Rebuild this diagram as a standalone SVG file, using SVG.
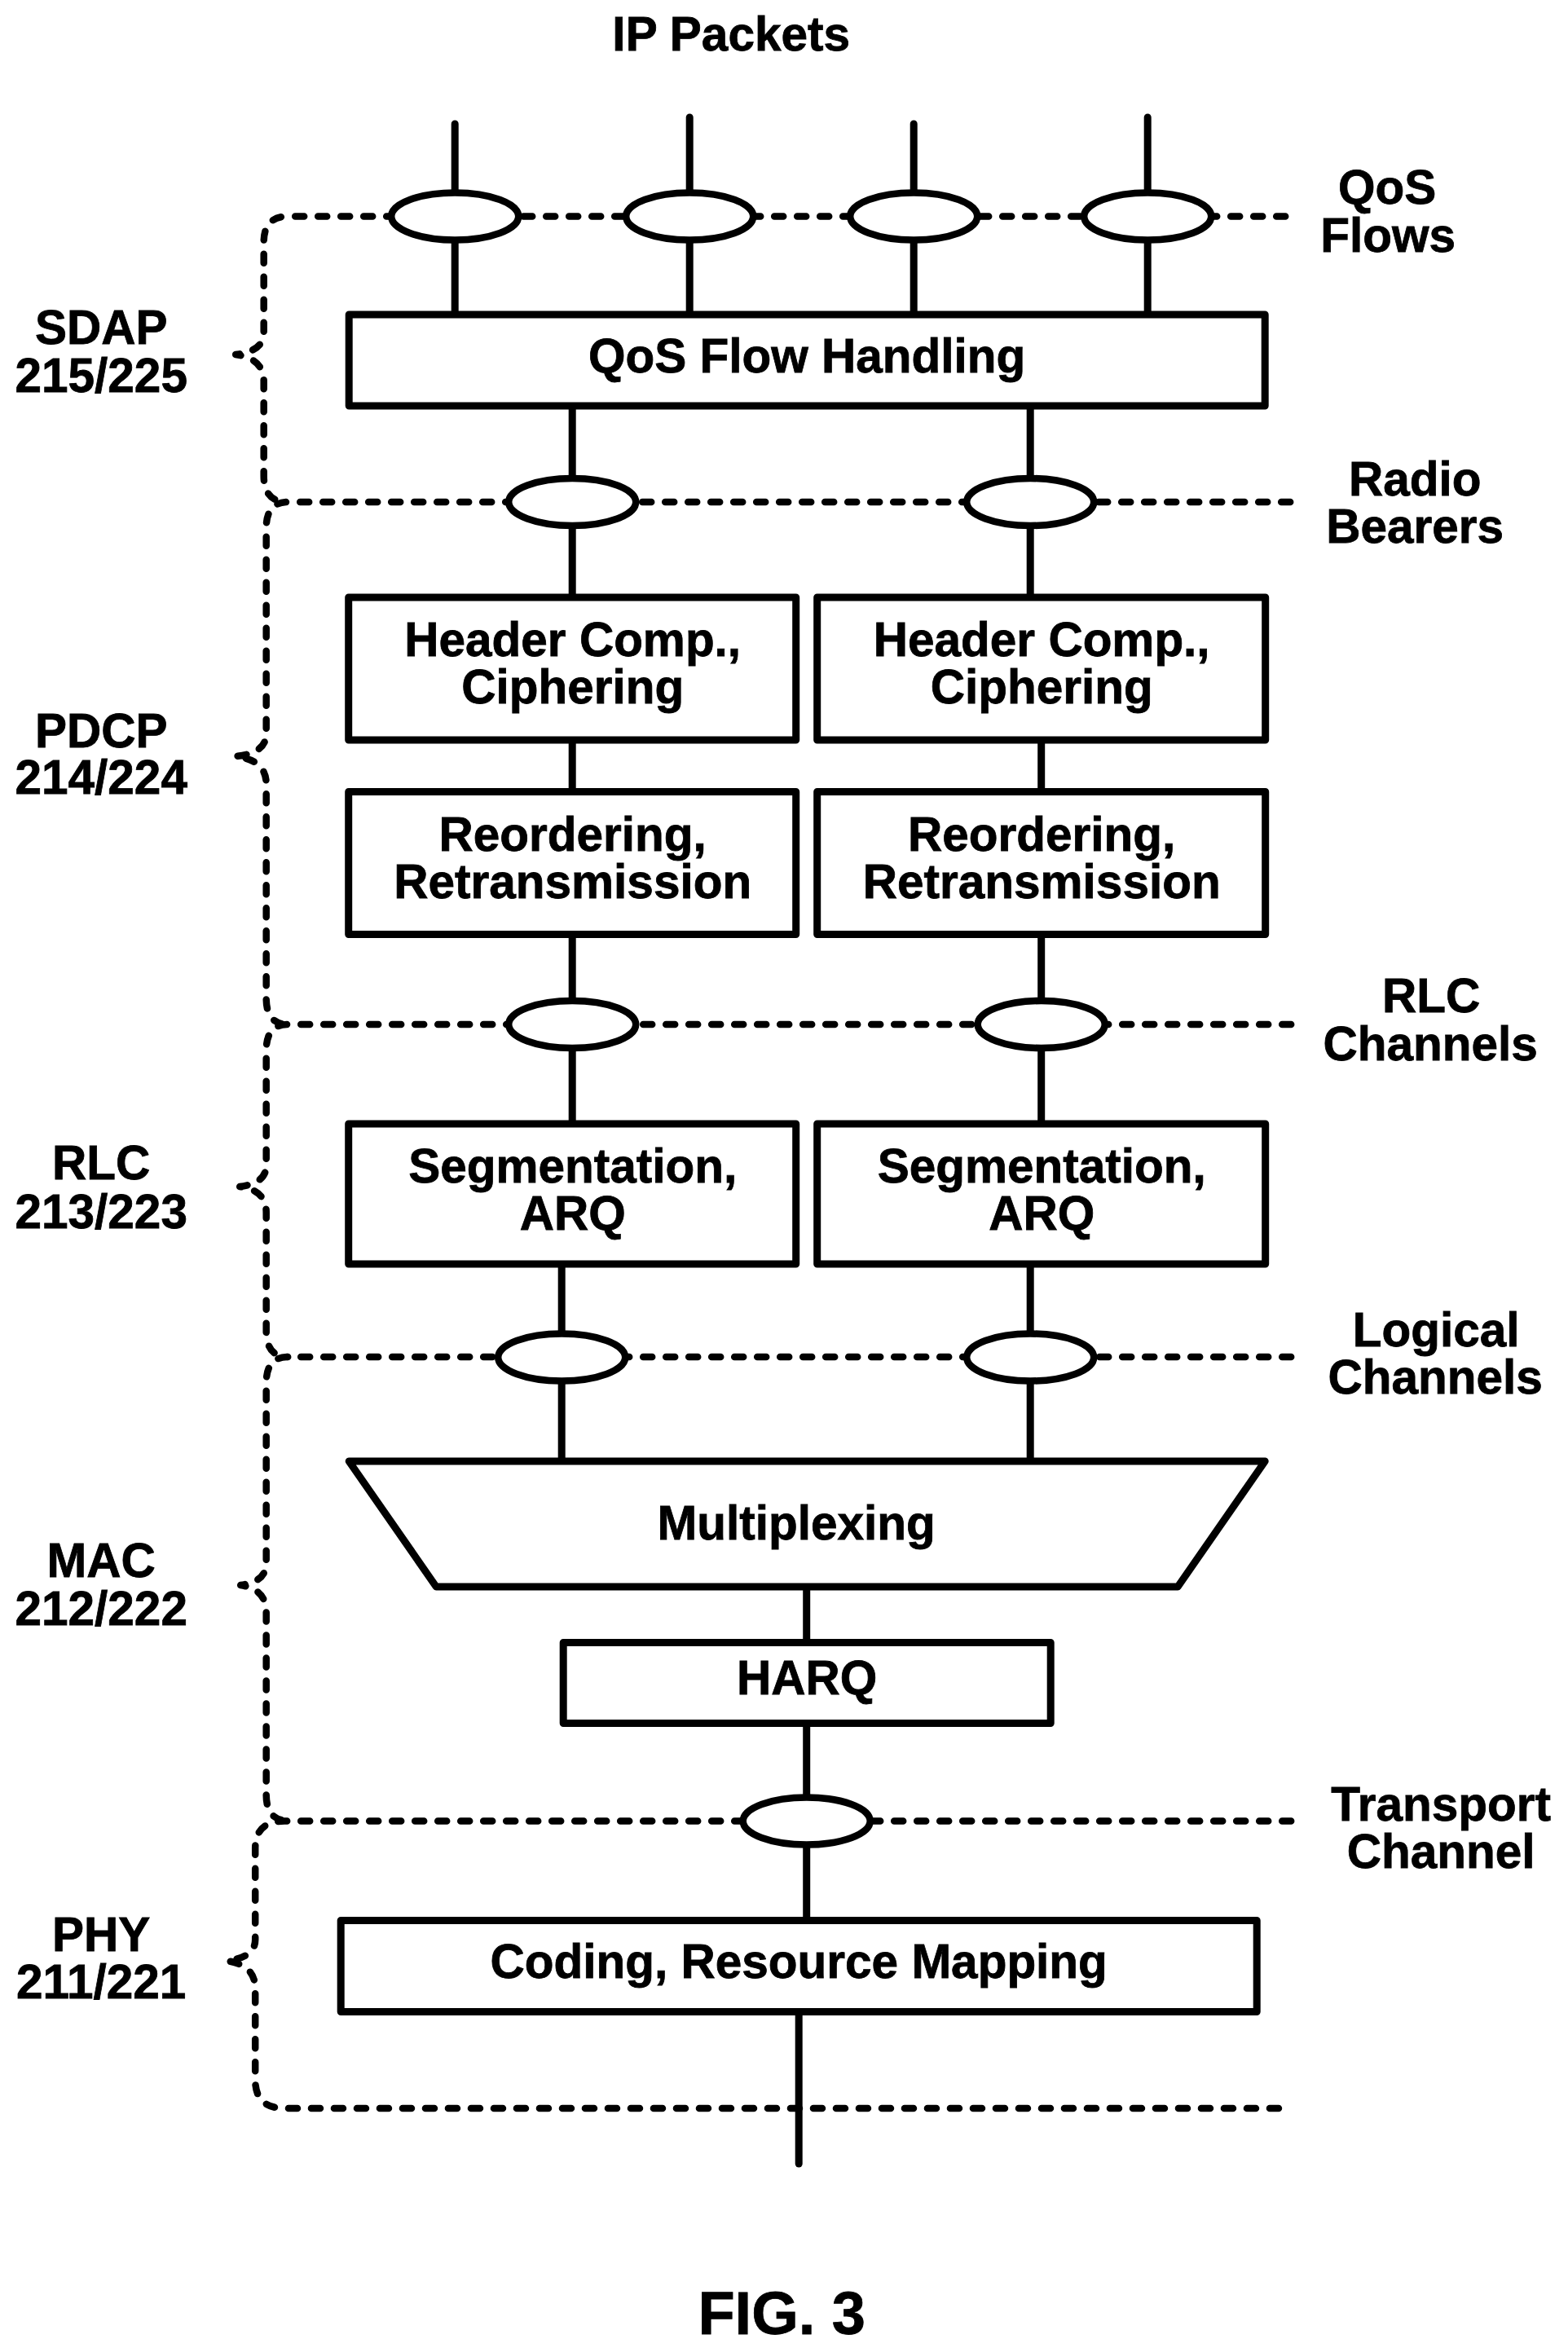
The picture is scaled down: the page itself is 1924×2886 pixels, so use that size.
<svg xmlns="http://www.w3.org/2000/svg" width="1924" height="2886" viewBox="0 0 1924 2886">
<style>
text{font-family:"Liberation Sans",Arial,sans-serif;font-weight:700;font-size:58.500px;fill:#000;stroke:#000;stroke-width:0.800;text-anchor:middle}
.box{fill:#fff;stroke:#000;stroke-width:9;stroke-linejoin:round}
.oval{fill:#fff;stroke:#000;stroke-width:8.500}
.wire{fill:none;stroke:#000;stroke-width:9;stroke-linecap:round}
.dash{fill:none;stroke:#000;stroke-width:8.500;stroke-linecap:round;stroke-linejoin:round;stroke-dasharray:11 17}
</style>
<rect width="1924" height="2886" fill="#fff"/>
<g transform="translate(-0.800 0)">
<g id="boundaries">
<path class="dash" d="M1578 265.500H354Q324.500 265.500 324.500 297V408Q324.500 431 290 435Q324.500 440 324.500 468V584Q324.500 616 354 616"/>
<path class="dash" d="M1584 616H354Q327.500 616 327.500 648V900Q327.500 925 289 928Q327.500 932 327.500 962V1225Q327.500 1257 354 1257"/>
<path class="dash" d="M1585 1257H354Q327.500 1257 327.500 1289V1430Q327.500 1452 295 1456Q327.500 1460 327.500 1488V1633Q327.500 1665 354 1665"/>
<path class="dash" d="M1585 1665H354Q327.500 1665 327.500 1697V1918Q327.500 1941 296 1945Q327.500 1950 327.500 1978V2202Q327.500 2234 354 2234"/>
<path class="dash" d="M1585 2234.500H350Q314 2234.500 314 2268V2380Q314 2402 279 2406Q314 2411 314 2440V2552Q314 2587 350 2587H1576"/>
</g>
<g id="connectors">
<path class="wire" d="M559 152V386"/>
<path class="wire" d="M847 144V386"/>
<path class="wire" d="M1122 152V386"/>
<path class="wire" d="M1409 144V386"/>
<path class="wire" d="M703 498V733"/>
<path class="wire" d="M1265 498V733"/>
<path class="wire" d="M703 907V971"/>
<path class="wire" d="M1278.500 907V971"/>
<path class="wire" d="M703 1146V1379"/>
<path class="wire" d="M1278.500 1146V1379"/>
<path class="wire" d="M690 1551V1793"/>
<path class="wire" d="M1265 1551V1793"/>
<path class="wire" d="M990.500 1947V2015"/>
<path class="wire" d="M990.500 2114V2356"/>
<path class="wire" d="M981 2469V2655"/>
</g>
<g id="flow-1"><ellipse class="oval" cx="559" cy="265.500" rx="78" ry="29"/></g>
<g id="flow-2"><ellipse class="oval" cx="847" cy="265.500" rx="78" ry="29"/></g>
<g id="flow-3"><ellipse class="oval" cx="1122" cy="265.500" rx="78" ry="29"/></g>
<g id="flow-4"><ellipse class="oval" cx="1409" cy="265.500" rx="78" ry="29"/></g>
<g id="bearer-1"><ellipse class="oval" cx="703" cy="616" rx="78" ry="29"/></g>
<g id="bearer-2"><ellipse class="oval" cx="1265" cy="616" rx="78" ry="29"/></g>
<g id="rlc-1"><ellipse class="oval" cx="703" cy="1257" rx="78" ry="29"/></g>
<g id="rlc-2"><ellipse class="oval" cx="1278.500" cy="1257" rx="78" ry="29"/></g>
<g id="logical-1"><ellipse class="oval" cx="690" cy="1665.500" rx="78" ry="29"/></g>
<g id="logical-2"><ellipse class="oval" cx="1265" cy="1665.500" rx="78" ry="29"/></g>
<g id="transport-1"><ellipse class="oval" cx="990.500" cy="2234.500" rx="78" ry="29"/></g>
<g id="qos-flow-handling"><rect class="box" x="429" y="386" width="1124" height="112"/><text x="991" y="457">QoS Flow Handling</text></g>
<g id="header-comp-1"><rect class="box" x="428.500" y="733" width="549" height="175"/><text><tspan x="703.500" y="805">Header Comp.,</tspan><tspan x="703.500" y="863">Ciphering</tspan></text></g>
<g id="header-comp-2"><rect class="box" x="1003.500" y="733" width="550" height="175"/><text><tspan x="1279" y="805">Header Comp.,</tspan><tspan x="1279" y="863">Ciphering</tspan></text></g>
<g id="reordering-1"><rect class="box" x="428.500" y="971.500" width="549" height="175"/><text><tspan x="703.500" y="1044">Reordering,</tspan><tspan x="703.500" y="1102">Retransmission</tspan></text></g>
<g id="reordering-2"><rect class="box" x="1003.500" y="971.500" width="550" height="175"/><text><tspan x="1279" y="1044">Reordering,</tspan><tspan x="1279" y="1102">Retransmission</tspan></text></g>
<g id="segmentation-1"><rect class="box" x="428.500" y="1379" width="549" height="172"/><text><tspan x="703.500" y="1451">Segmentation,</tspan><tspan x="703.500" y="1509">ARQ</tspan></text></g>
<g id="segmentation-2"><rect class="box" x="1003.500" y="1379" width="550" height="172"/><text><tspan x="1279" y="1451">Segmentation,</tspan><tspan x="1279" y="1509">ARQ</tspan></text></g>
<g id="multiplexing"><polygon class="box" points="429,1793 1553,1793 1446,1947 536,1947"/><text x="978" y="1889">Multiplexing</text></g>
<g id="harq"><rect class="box" x="692" y="2015.500" width="598" height="99"/><text x="991" y="2079">HARQ</text></g>
<g id="coding"><rect class="box" x="419" y="2356.500" width="1124" height="112"/><text x="981" y="2427">Coding, Resource Mapping</text></g>
<g id="labels">
<text x="898" y="62">IP Packets</text>
<text><tspan x="1703" y="250">QoS</tspan><tspan x="1704" y="309">Flows</tspan></text>
<text><tspan x="1737" y="608">Radio</tspan><tspan x="1737" y="666">Bearers</tspan></text>
<text><tspan x="1757" y="1242">RLC</tspan><tspan x="1756" y="1301">Channels</tspan></text>
<text><tspan x="1763" y="1652">Logical</tspan><tspan x="1762" y="1710">Channels</tspan></text>
<text><tspan x="1769" y="2234">Transport</tspan><tspan x="1769" y="2292">Channel</tspan></text>
<text><tspan x="125" y="422">SDAP</tspan><tspan x="125" y="481">215/225</tspan></text>
<text><tspan x="125" y="917">PDCP</tspan><tspan x="125" y="974">214/224</tspan></text>
<text><tspan x="125" y="1447">RLC</tspan><tspan x="125" y="1507">213/223</tspan></text>
<text><tspan x="125" y="1935">MAC</tspan><tspan x="125" y="1994">212/222</tspan></text>
<text><tspan x="125" y="2394">PHY</tspan><tspan x="125" y="2452">211/221</tspan></text>
<text x="960" y="2864" style="font-size:74px">FIG. 3</text>
</g>
</g>
</svg>
